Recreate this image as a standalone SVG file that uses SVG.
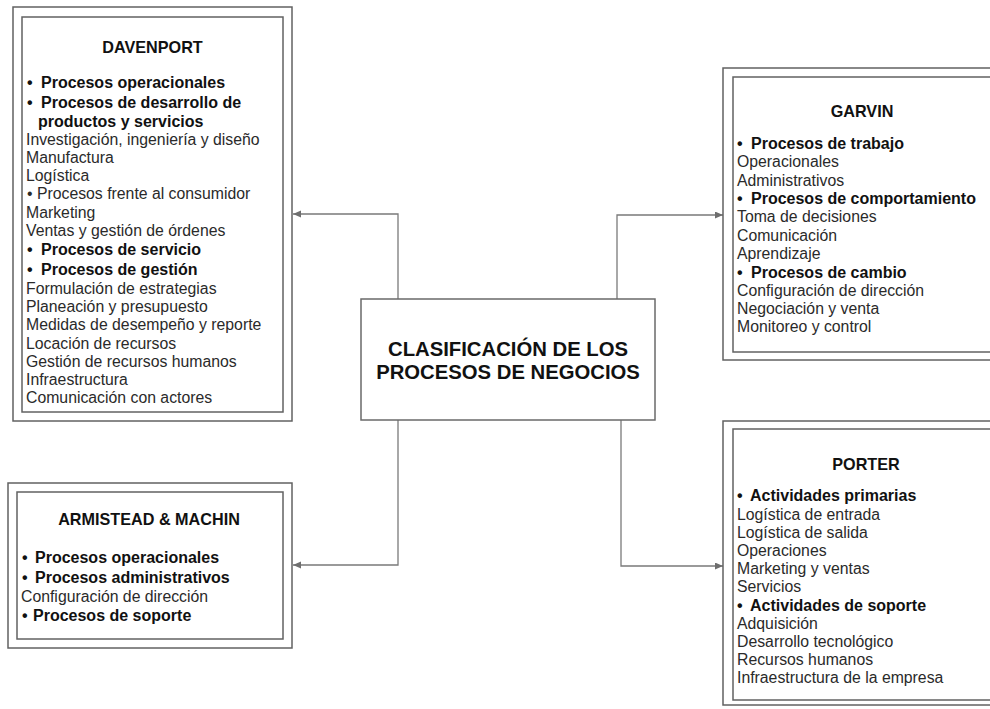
<svg xmlns="http://www.w3.org/2000/svg" width="990" height="709" viewBox="0 0 990 709">
  <style>
    .frame { fill: #ffffff; stroke: #626262; stroke-width: 1.5; }
    .inner { fill: #ffffff; stroke: #626262; stroke-width: 1.5; }
    .center { fill: #ffffff; stroke: #6a6a6a; stroke-width: 1.5; }
    .t { font-family: "Liberation Sans", Arial, sans-serif; font-size: 15.8px; fill: #2a2a2a; }
    .b { font-weight: bold; font-size: 16px; fill: #111111; }
    .ttl { font-family: "Liberation Sans", Arial, sans-serif; font-size: 16.2px; font-weight: bold; fill: #111111; text-anchor: middle; }
    .main { font-family: "Liberation Sans", Arial, sans-serif; font-size: 20.3px; font-weight: bold; fill: #111111; text-anchor: middle; }
    .conn { fill: none; stroke: #7a7a7a; stroke-width: 1.3; }
  </style>
  <defs>
    <marker id="arrow" markerUnits="userSpaceOnUse" markerWidth="9" markerHeight="8" refX="8" refY="3.5" orient="auto">
      <path d="M0,0 L8,3.5 L0,7 z" fill="#6e6e6e"/>
    </marker>
  </defs>

  <rect width="990" height="709" fill="#ffffff"/>

  <!-- connectors -->
  <g id="connectors">
    <path class="conn" d="M398,299 V214 H293" marker-end="url(#arrow)"/>
    <path class="conn" d="M617,299 V215 H723" marker-end="url(#arrow)"/>
    <path class="conn" d="M398,420 V565 H293" marker-end="url(#arrow)"/>
    <path class="conn" d="M621,420 V566 H723" marker-end="url(#arrow)"/>
  </g>

  <!-- central node -->
  <g id="clasificacion">
    <rect class="center" x="361" y="299" width="294" height="121"/>
    <text class="main" x="508" y="356">CLASIFICACIÓN DE LOS</text>
    <text class="main" x="508" y="379">PROCESOS DE NEGOCIOS</text>
  </g>

  <!-- Davenport -->
  <g id="davenport">
    <rect class="frame" x="13" y="7" width="279" height="414"/>
    <rect class="inner" x="22" y="17" width="261" height="395"/>
    <text class="ttl" x="152.5" y="53">DAVENPORT</text>
    <text class="t b"><tspan x="27" y="88">•</tspan><tspan x="41" y="88">Procesos operacionales</tspan></text>
    <text class="t b"><tspan x="27" y="108">•</tspan><tspan x="41" y="108">Procesos de desarrollo de</tspan></text>
    <text class="t b" x="38" y="127">productos y servicios</text>
    <text class="t" x="26" y="145">Investigación, ingeniería y diseño</text>
    <text class="t" x="26" y="163">Manufactura</text>
    <text class="t" x="26" y="181">Logística</text>
    <text class="t" x="27" y="199">• Procesos frente al consumidor</text>
    <text class="t" x="26" y="218">Marketing</text>
    <text class="t" x="26" y="236">Ventas y gestión de órdenes</text>
    <text class="t b"><tspan x="27" y="255">•</tspan><tspan x="41" y="255">Procesos de servicio</tspan></text>
    <text class="t b"><tspan x="27" y="275">•</tspan><tspan x="41" y="275">Procesos de gestión</tspan></text>
    <text class="t" x="26" y="294">Formulación de estrategias</text>
    <text class="t" x="26" y="312">Planeación y presupuesto</text>
    <text class="t" x="26" y="330">Medidas de desempeño y reporte</text>
    <text class="t" x="26" y="349">Locación de recursos</text>
    <text class="t" x="26" y="367">Gestión de recursos humanos</text>
    <text class="t" x="26" y="385">Infraestructura</text>
    <text class="t" x="26" y="403">Comunicación con actores</text>
  </g>

  <!-- Garvin -->
  <g id="garvin">
    <rect class="frame" x="723" y="68" width="290" height="292"/>
    <rect class="inner" x="733" y="77" width="270" height="275"/>
    <text class="ttl" x="862" y="117">GARVIN</text>
    <text class="t b"><tspan x="737" y="149">•</tspan><tspan x="751" y="149">Procesos de trabajo</tspan></text>
    <text class="t" x="737" y="167">Operacionales</text>
    <text class="t" x="737" y="186">Administrativos</text>
    <text class="t b"><tspan x="737" y="204">•</tspan><tspan x="751" y="204">Procesos de comportamiento</tspan></text>
    <text class="t" x="737" y="222">Toma de decisiones</text>
    <text class="t" x="737" y="241">Comunicación</text>
    <text class="t" x="737" y="259">Aprendizaje</text>
    <text class="t b"><tspan x="737" y="278">•</tspan><tspan x="751" y="278">Procesos de cambio</tspan></text>
    <text class="t" x="737" y="296">Configuración de dirección</text>
    <text class="t" x="737" y="314">Negociación y venta</text>
    <text class="t" x="737" y="332">Monitoreo y control</text>
  </g>

  <!-- Armistead & Machin -->
  <g id="armistead-machin">
    <rect class="frame" x="8" y="483" width="284" height="165"/>
    <rect class="inner" x="17" y="492" width="266" height="147"/>
    <text class="ttl" x="149" y="525">ARMISTEAD &amp; MACHIN</text>
    <text class="t b"><tspan x="22" y="563">•</tspan><tspan x="35" y="563">Procesos operacionales</tspan></text>
    <text class="t b"><tspan x="22" y="583">•</tspan><tspan x="35" y="583">Procesos administrativos</tspan></text>
    <text class="t" x="21" y="602">Configuración de dirección</text>
    <text class="t b"><tspan x="22" y="621">•</tspan><tspan x="33" y="621">Procesos de soporte</tspan></text>
  </g>

  <!-- Porter -->
  <g id="porter">
    <rect class="frame" x="723" y="421" width="290" height="284"/>
    <rect class="inner" x="733" y="429" width="270" height="271"/>
    <text class="ttl" x="866" y="470">PORTER</text>
    <text class="t b"><tspan x="737" y="501">•</tspan><tspan x="750" y="501">Actividades primarias</tspan></text>
    <text class="t" x="737" y="520">Logística de entrada</text>
    <text class="t" x="737" y="538">Logística de salida</text>
    <text class="t" x="737" y="556">Operaciones</text>
    <text class="t" x="737" y="574">Marketing y ventas</text>
    <text class="t" x="737" y="592">Servicios</text>
    <text class="t b"><tspan x="737" y="611">•</tspan><tspan x="750" y="611">Actividades de soporte</tspan></text>
    <text class="t" x="737" y="629">Adquisición</text>
    <text class="t" x="737" y="647">Desarrollo tecnológico</text>
    <text class="t" x="737" y="665">Recursos humanos</text>
    <text class="t" x="737" y="683">Infraestructura de la empresa</text>
  </g>
</svg>
